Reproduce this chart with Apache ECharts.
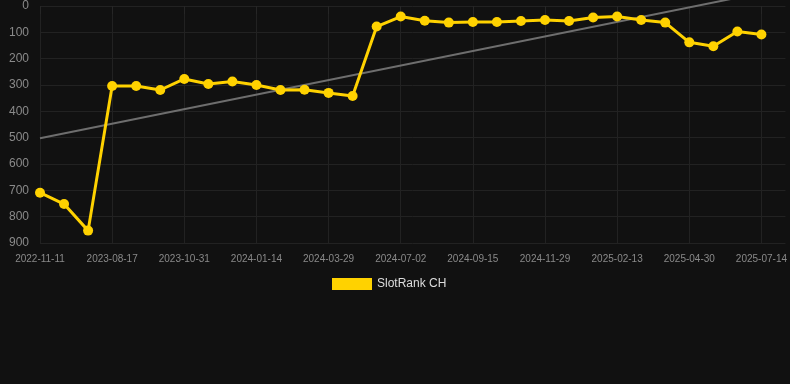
<!DOCTYPE html>
<html>
<head>
<meta charset="utf-8">
<script src="https://cdn.jsdelivr.net/npm/echarts@6/dist/echarts.min.js"></script>
<style>
html,body{margin:0;padding:0;background:#111111;}
#chart{width:790px;height:384px;}
</style>
</head>
<body>
<div id="chart"></div>
<script>
const categories = [
  '2022-11-11','2023-06-28','2023-07-23','2023-08-17','2023-09-11','2023-10-06',
  '2023-10-31','2023-11-25','2023-12-20','2024-01-14','2024-02-08','2024-03-04',
  '2024-03-29','2024-04-23','2024-06-07','2024-07-02','2024-07-27','2024-08-21',
  '2024-09-15','2024-10-10','2024-11-04','2024-11-29','2024-12-24','2025-01-19',
  '2025-02-13','2025-03-10','2025-04-05','2025-04-30','2025-05-25','2025-06-19',
  '2025-07-14'
];
const slotRankCH = [
  709, 752, 853, 304, 304, 319, 277, 296, 287, 300, 319, 318, 330, 342, 78,
  40, 56, 63, 61, 61, 57, 53, 57, 44, 40, 53, 63, 138, 153, 97, 108
];
const trendStart = 502;
const trendEnd = -50;
const yTicks = [0, 100, 200, 300, 400, 500, 600, 700, 800, 900];

const trendData = categories.map((c, i) =>
  i === 0 ? trendStart : (i === categories.length - 1 ? trendEnd : null));

const every3 = (i) => i % 3 === 0 && i < categories.length;

const chart = echarts.init(document.getElementById('chart'));
chart.setOption({
  backgroundColor: '#111111',
  animation: false,
  grid: { left: 40, right: 0, top: 6, bottom: 141, containLabel: false },
  legend: {
    data: ['SlotRank CH'],
    top: 273,
    left: 327,
    icon: 'rect',
    itemWidth: 40,
    itemHeight: 12,
    itemGap: 6,
    textStyle: { color: '#dddddd', fontSize: 12, fontFamily: 'Liberation Sans, Arial, sans-serif' }
  },
  xAxis: {
    type: 'category',
    data: categories,
    boundaryGap: false,
    max: 31.25,
    axisLine: { show: false },
    axisTick: { show: true, interval: every3, length: 8, lineStyle: { color: '#262626' } },
    axisLabel: {
      interval: 2, color: '#8a8a8a', fontSize: 10, margin: 11,
      fontFamily: 'Liberation Sans, Arial, sans-serif'
    },
    splitLine: { show: true, interval: every3, lineStyle: { color: '#222222', width: 1 } }
  },
  yAxis: {
    type: 'value',
    inverse: true,
    min: yTicks[0],
    max: yTicks[yTicks.length - 1],
    interval: 100,
    axisLine: { show: false },
    axisTick: { show: false },
    axisLabel: { color: '#8a8a8a', fontSize: 12, margin: 11, fontFamily: 'Liberation Sans, Arial, sans-serif' },
    splitLine: { show: true, lineStyle: { color: '#222222', width: 1 } }
  },
  series: [
    {
      name: 'SlotRank CH',
      type: 'line',
      data: slotRankCH,
      color: '#FFD200',
      symbol: 'circle',
      symbolSize: 10,
      lineStyle: { width: 3, color: '#FFD200' },
      itemStyle: { color: '#FFD200' },
      z: 3
    },
    {
      name: 'trend',
      type: 'line',
      data: trendData,
      connectNulls: true,
      symbol: 'none',
      clip: false,
      lineStyle: { width: 2, color: '#6e6e6e' },
      itemStyle: { color: '#6e6e6e' },
      z: 2
    }
  ]
});
</script>
</body>
</html>
